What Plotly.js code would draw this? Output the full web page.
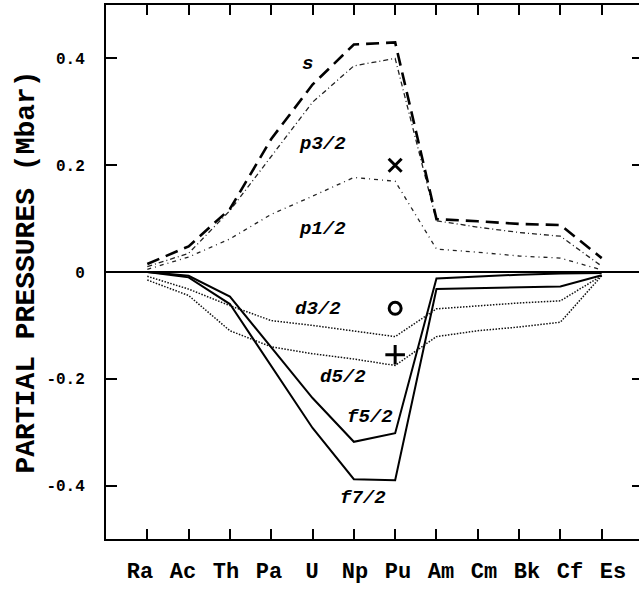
<!DOCTYPE html>
<html>
<head>
<meta charset="utf-8">
<script src="https://cdn.plot.ly/plotly-3.0.1.min.js"></script>
<style>
html,body{margin:0;padding:0;overflow:hidden;background:#fff;}
#chart{width:645px;height:590px;}
</style>
</head>
<body>
<div id="chart"></div>
<script>
// Categories (elements)
const categories = ["Ra","Ac","Th","Pa","U","Np","Pu","Am","Cm","Bk","Cf","Es"];

// Partial pressures (Mbar) per orbital
const s_vals   = [0.015, 0.048, 0.118, 0.249, 0.351, 0.426, 0.430, 0.099, 0.095, 0.090, 0.088, 0.026];
const p32_vals = [0.010, 0.035, 0.115, 0.217, 0.318, 0.386, 0.400, 0.096, 0.084, 0.074, 0.067, 0.011];
const p12_vals = [0.005, 0.028, 0.062, 0.108, 0.142, 0.177, 0.170, 0.043, 0.037, 0.030, 0.026, 0.004];
const d32_vals = [-0.008, -0.032, -0.063, -0.091, -0.100, -0.110, -0.121, -0.069, -0.063, -0.058, -0.054, -0.007];
const d52_vals = [-0.015, -0.044, -0.110, -0.140, -0.153, -0.163, -0.175, -0.121, -0.110, -0.103, -0.094, -0.007];
const f52_vals = [0.000, -0.007, -0.046, -0.140, -0.236, -0.318, -0.302, -0.012, -0.008, -0.005, -0.003, -0.002];
const f72_vals = [0.000, -0.010, -0.060, -0.175, -0.292, -0.388, -0.390, -0.032, -0.030, -0.029, -0.027, -0.006];

// Single-point measurements at Pu
const pointCats   = ["Pu", "Pu", "Pu"];
const pointVals   = [0.200, -0.068, -0.155];
const pointLabels = ["x", "o", "+"];

// Curve labels
const curveLabels = ["s", "p3/2", "p1/2", "d3/2", "d5/2", "f5/2", "f7/2"];

const idx = categories.map((c, i) => i);
const catIndex = c => categories.indexOf(c);

function line(y, name, style) {
  return {type: "scatter", mode: "lines", x: idx, y: y, name: name,
          line: Object.assign({color: "#000", width: 1.5}, style),
          hoverinfo: "skip", showlegend: false};
}

const traces = [
  line(p12_vals, "p1/2", {color: "#222", width: 1.3, dash: "4px,4px,1px,4px"}),
  line(p32_vals, "p3/2", {color: "#222", width: 1.3, dash: "5px,3px,1px,3px"}),
  line(d32_vals, "d3/2", {color: "#111", width: 1.5, dash: "1.5px,1.5px"}),
  line(d52_vals, "d5/2", {color: "#111", width: 1.5, dash: "1.5px,1.5px"}),
  line(s_vals, "s", {color: "#000", width: 2.6, dash: "13px,7px"}),
  line(f52_vals, "f5/2", {color: "#000", width: 2}),
  line(f72_vals, "f7/2", {color: "#000", width: 2}),
];

const symbolMap = {"x": "x-thin", "o": "circle-open", "+": "cross-thin"};
traces.push({
  type: "scatter", mode: "markers",
  x: pointCats.map(catIndex), y: pointVals,
  marker: {symbol: pointLabels.map(l => symbolMap[l]), size: [13, 12, 14],
           color: "#000", opacity: 1, line: {color: "#000", width: 3}},
  hoverinfo: "skip", showlegend: false
});

// invisible trace carrying the tick-label axis
traces.push({type: "scatter", mode: "none", x: idx, y: idx.map(() => 0),
             xaxis: "x2", hoverinfo: "skip", showlegend: false});

const labelFont = {family: "Liberation Mono", size: 19, color: "#000", weight: "bold", style: "italic"};
const labelPos = [[3.88, 0.389], [4.24, 0.239], [4.24, 0.080], [4.12, -0.069],
                  [4.73, -0.196], [5.38, -0.271], [5.23, -0.424]];
const annotations = curveLabels.map((t, i) => ({
  x: labelPos[i][0], y: labelPos[i][1], xref: "x", yref: "y",
  text: t, showarrow: false, font: labelFont
}));

const layout = {
  width: 645, height: 590,
  margin: {l: 106, r: 2, t: 5, b: 51},
  paper_bgcolor: "#fff", plot_bgcolor: "#fff",
  showlegend: false,
  font: {family: "Liberation Mono", color: "#000"},
  xaxis: {
    range: [-1, 12], tickvals: idx, ticktext: categories,
    showticklabels: false, ticks: "inside", ticklen: 10, tickwidth: 2, tickcolor: "#000",
    showline: true, linecolor: "#000", linewidth: 2, mirror: "ticks",
    showgrid: false, zeroline: false
  },
  xaxis2: {
    overlaying: "x", anchor: "y", side: "bottom",
    range: [-0.791, 11.698], tickvals: idx, ticktext: categories,
    showticklabels: true, ticks: "", showline: false, showgrid: false, zeroline: false,
    ticklabelstandoff: 16,
    tickfont: {family: "Liberation Mono", size: 22, color: "#000", weight: "bold"}
  },
  yaxis: {
    range: [-0.5, 0.5], tickvals: [-0.4, -0.2, 0, 0.2, 0.4],
    ticktext: ["-0.4", "-0.2", "0", "0.2", "0.4"],
    ticks: "inside", ticklen: 11, tickwidth: 2, tickcolor: "#000",
    showline: true, linecolor: "#000", linewidth: 2, mirror: "ticks",
    showgrid: false, zeroline: true, zerolinecolor: "#000", zerolinewidth: 1.6,
    ticklabelstandoff: 16,
    tickfont: {family: "Liberation Mono", size: 16, color: "#000", weight: "bold"},
    title: {text: "PARTIAL PRESSURES (Mbar)", standoff: 4,
            font: {family: "Liberation Mono", size: 28, color: "#000", weight: "bold"}}
  },
  annotations: annotations
};

Plotly.newPlot("chart", traces, layout, {staticPlot: true, displayModeBar: false});
</script>
</body>
</html>
